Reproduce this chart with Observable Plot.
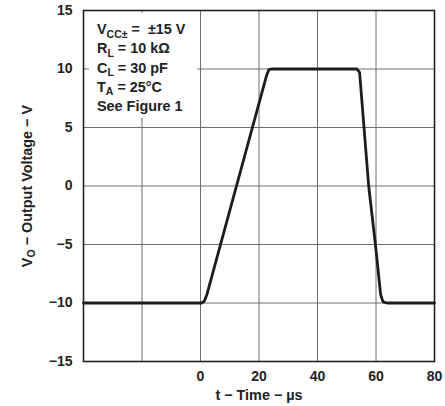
<!DOCTYPE html>
<html><head><meta charset="utf-8">
<script src="https://cdn.jsdelivr.net/npm/d3@7"></script>
<script src="https://cdn.jsdelivr.net/npm/@observablehq/plot@0.6"></script>
<style>body{margin:0;background:#fff} #c{width:445px;height:406px}</style>
</head><body><div id="c"></div>
<script>
// t (µs) and VO (V)
const timeUs   = [-40, 0.4, 1.3,   2.2,   22.6, 23.4, 24.3, 53.5, 54.4, 55.9, 57.5, 59.8, 61.6, 62.4, 63.8, 80];
const voltageV = [-10, -10, -9.85, -9.27, 9.45, 9.95, 10,   10,   9.7,  5,    0,    -5,   -9.3, -9.9, -10,  -10];
const xGridTicks = [-40, -20, 0, 20, 40, 60, 80];
const xTickLabels = [0, 20, 40, 60, 80];
const yTicks = [-15, -10, -5, 0, 5, 10, 15];
const condMain = ["V", "R", "C", "T", "See Figure 1"];
const condSub  = ["CC\u00B1", "L", "L", "A", ""];
const condRest = [" =  \u00B115 V", " = 10 k\u03A9", " = 30 pF", " = 25\u00B0C", ""];
const xLabel = "t \u2212 Time \u2212 \u00B5s";
const yLabelParts = ["V", "O", " \u2212 Output Voltage \u2212 V"];

const data = timeUs.map((t, i) => ({t, v: voltageV[i]}));
const font = "'Liberation Sans', Arial, Helvetica, sans-serif";

const chart = Plot.plot({
  width: 445, height: 406,
  marginLeft: 83, marginRight: 11, marginTop: 10, marginBottom: 45,
  x: {domain: [-40, 80]},
  y: {domain: [-15, 15]},
  style: {fontFamily: font, fontSize: "14px", fontWeight: "bold", color: "#222", background: "#fff"},
  marks: [
    Plot.ruleX(xGridTicks, {stroke: "#6e6e6e", strokeWidth: 1}),
    Plot.ruleY(yTicks, {stroke: "#6e6e6e", strokeWidth: 1}),
    Plot.line(data, {x: "t", y: "v", stroke: "#1c1c1c", strokeWidth: 2.8, strokeLinejoin: "round", strokeLinecap: "round"}),
    Plot.frame({stroke: "#222", strokeWidth: 1.6}),
    Plot.axisX(xTickLabels, {tickSize: 0, tickPadding: 10, label: null, fill: "#222"}),
    Plot.axisY(yTicks, {tickSize: 0, tickPadding: 11, label: null, fill: "#222"})
  ]
});
document.getElementById("c").appendChild(chart);

const svg = d3.select(chart);
const g = svg.append("g").attr("font-family", font).attr("font-weight", "bold").attr("fill", "#222");
// conditions box
g.append("rect").attr("x", 89).attr("y", 13).attr("width", 108).attr("height", 104.5).attr("fill", "#fff");
condMain.forEach((m, i) => {
  const t = g.append("text").attr("x", 97).attr("y", 34 + i * 19.3).attr("font-size", 14.4).attr("text-anchor", "start");
  t.append("tspan").text(m);
  if (condSub[i]) t.append("tspan").attr("font-size", 10.5).attr("dy", 3.5).text(condSub[i]);
  if (condRest[i]) t.append("tspan").attr("dy", -3.5).text(condRest[i]);
});
// axis labels
g.append("text").attr("x", 259).attr("y", 400).attr("text-anchor", "middle").attr("font-size", 14.4).text(xLabel);
const yl = g.append("text").attr("transform", "translate(31.5,186) rotate(-90)").attr("text-anchor", "middle").attr("font-size", 14.4);
yl.append("tspan").text(yLabelParts[0]);
yl.append("tspan").attr("font-size", 10.5).attr("dy", 3.5).text(yLabelParts[1]);
yl.append("tspan").attr("dy", -3.5).text(yLabelParts[2]);
</script>
</body></html>
